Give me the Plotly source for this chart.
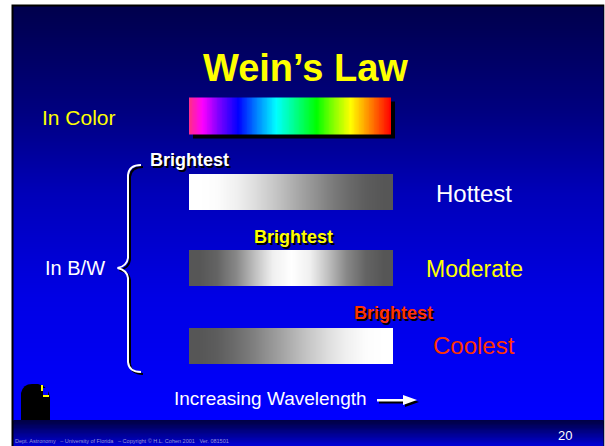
import plotly.graph_objects as go
import numpy as np

# ---------------- data ----------------
title_text = "Wein’s Law"
left_labels = ["In Color", "In B/W"]
temperature_labels = ["Hottest", "Moderate", "Coolest"]
brightest_label = "Brightest"
axis_caption = "Increasing Wavelength"
slide_number = "20"
footer_text = "Dept. Astronomy   – University of Florida   – Copyright © H.L. Cohen 2001   Ver. 081501"

# gray level (0-255) read across each bar, left -> right
hottest_profile = [255, 252, 240, 222, 200, 176, 152, 128, 108, 93, 86]
moderate_profile = [86, 100, 135, 190, 240, 255, 240, 190, 135, 100, 86]
coolest_profile = [86, 93, 108, 128, 152, 176, 200, 222, 240, 252, 255]

# colour spectrum stops read across the "In Color" bar (fraction of width)
spectrum_positions = [0.0, 0.06, 0.14, 0.24, 0.33, 0.43, 0.53, 0.63, 0.71, 0.80, 0.90, 1.0]
spectrum_colors = ["#FF2A90", "#FF00FF", "#8000FF", "#0000FF", "#0080FF", "#00FFFF",
                   "#00FF80", "#00FF00", "#80FF00", "#FFFF00", "#FF8000", "#FF0000"]

# background shade stops (fraction of slide height)
bg_positions = [0.0, 0.25, 0.45, 0.7, 1.0]
bg_colors = ["rgb(0,0,78)", "rgb(0,0,128)", "rgb(0,0,185)", "rgb(0,0,228)", "rgb(0,0,255)"]
footer_colors = ["rgb(0,0,70)", "rgb(0,0,215)"]

# ---------------- figure ----------------
W, H = 605, 446
FONT = "Liberation Sans, Arial, sans-serif"
YELLOW = "#FFFF00"
RED = "#FF3300"
WHITE = "#FFFFFF"

fig = go.Figure()


def hm(z, x0, x1, y0, y1, colorscale, zmin, zmax, smooth="best"):
    z = np.asarray(z, dtype=float)
    ny, nx = z.shape
    dx = (x1 - x0) / nx
    dy = (y1 - y0) / ny
    fig.add_trace(go.Heatmap(
        z=z, x0=x0 + dx / 2, dx=dx, y0=y0 + dy / 2, dy=dy,
        colorscale=colorscale, zmin=zmin, zmax=zmax, zsmooth=smooth,
        showscale=False, hoverinfo="skip"))


# slide background (vertical shade)
ramp = np.linspace(0, 1, 60)
hm(np.column_stack([ramp, ramp]), 13.5, 603.5, 6.5, 420, list(zip(bg_positions, bg_colors)), 0, 1)
# footer band
ramp2 = np.linspace(0, 1, 20)
hm(np.column_stack([ramp2, ramp2]), 13.5, 603.5, 420, 446,
   [[0, footer_colors[0]], [1, footer_colors[1]]], 0, 1)

# shadow of colour bar
hm([[0, 0], [0, 0]], 193, 395, 101.5, 138, [[0, "black"], [1, "black"]], 0, 1, smooth=False)
# colour spectrum bar
sp = np.linspace(0, 1, 121)
hm([sp, sp], 189, 391, 97.5, 134, list(zip(spectrum_positions, spectrum_colors)), 0, 1)

gray_scale = [[0, "rgb(0,0,0)"], [1, "rgb(255,255,255)"]]
bar_rows = [(174, 210), (250, 286), (328, 364)]
for prof, (y0, y1) in zip([hottest_profile, moderate_profile, coolest_profile], bar_rows):
    hm([prof, prof], 189, 393, y0, y1, gray_scale, 0, 255)

shapes = []
# slide border (black frame under everything)
shapes.append(dict(type="rect", x0=11.5, x1=604.3, y0=4.5, y1=447, layer="below",
                   fillcolor="black", line=dict(width=0)))

# brace with shadow
brace = ("M 141 165 Q 129 165 128 175 L 128 258 Q 127 266 117.5 268 "
         "Q 127 270 128 278 L 128 362 Q 129 372 141 372")
brace_sh = ("M 143 167 Q 131 167 130 177 L 130 260 Q 129 268 119.5 270 "
            "Q 129 272 130 280 L 130 364 Q 131 374 143 374")
shapes.append(dict(type="path", path=brace_sh, line=dict(color="black", width=2), layer="above"))
shapes.append(dict(type="path", path=brace, line=dict(color=WHITE, width=2), layer="above"))

# arrow with shadow
shapes.append(dict(type="rect", x0=379, x1=407, y0=401, y1=403.5, fillcolor="black",
                   line=dict(width=0), layer="above"))
shapes.append(dict(type="path", path="M 405 397 L 419 402 L 405 407 Z", fillcolor="black",
                   line=dict(width=0), layer="above"))
shapes.append(dict(type="rect", x0=377, x1=405, y0=399, y1=401.5, fillcolor=WHITE,
                   line=dict(width=0), layer="above"))
shapes.append(dict(type="path", path="M 403 395 L 417 400 L 403 405 Z", fillcolor=WHITE,
                   line=dict(width=0), layer="above"))

# little silhouette bottom-left
shapes.append(dict(type="path", path="M 21 420 L 21 393 Q 23 384 32 384 L 38 384 Q 48 386 50 397 L 50 420 Z",
                   fillcolor="black", line=dict(width=0), layer="above"))
shapes.append(dict(type="rect", x0=43, x1=48, y0=388, y1=395, fillcolor="#0000FF",
                   line=dict(width=0), layer="above"))
shapes.append(dict(type="rect", x0=41, x1=43, y0=385, y1=391, fillcolor=YELLOW,
                   line=dict(width=0), layer="above"))
shapes.append(dict(type="rect", x0=43, x1=49, y0=395, y1=397, fillcolor=YELLOW,
                   line=dict(width=0), layer="above"))

ann = []


def text(t, x, y, color, size, bold=False, shadow=False, xanchor="center"):
    s = f"<b>{t}</b>" if bold else t
    font = dict(family=FONT, size=size, color=color)
    if shadow:
        font["shadow"] = "2px 2px 0px black"
    ann.append(dict(text=s, x=x, y=y, xref="x", yref="y", showarrow=False,
                    xanchor=xanchor, yanchor="middle", font=font))


text(title_text, 305, 68, YELLOW, 38, bold=True)
text(left_labels[0], 79, 117, YELLOW, 21)
text(left_labels[1], 75, 268, WHITE, 20)
text(brightest_label, 189, 160, WHITE, 18, bold=True, shadow=True)
text(brightest_label, 293, 237, YELLOW, 18, bold=True, shadow=True)
text(brightest_label, 393, 313, RED, 18, bold=True, shadow=True)
text(temperature_labels[0], 474, 193, WHITE, 24)
text(temperature_labels[1], 474, 269, YELLOW, 23)
text(temperature_labels[2], 474, 345, RED, 24)
text(axis_caption, 270, 398, WHITE, 19)
text(slide_number, 565, 435, WHITE, 13)
text(footer_text, 13, 441, "rgb(150,150,215)", 5.5, xanchor="left")

fig.update_layout(
    width=W, height=H, margin=dict(l=0, r=0, t=0, b=0),
    paper_bgcolor="white", plot_bgcolor="white",
    xaxis=dict(range=[0, W], visible=False, fixedrange=True),
    yaxis=dict(range=[H, 0], visible=False, fixedrange=True),
    shapes=shapes, annotations=ann, showlegend=False,
)

fig.write_html("out.html", config={"displayModeBar": False},
               post_script="document.body.style.margin='0px';document.body.style.overflow='hidden';")
